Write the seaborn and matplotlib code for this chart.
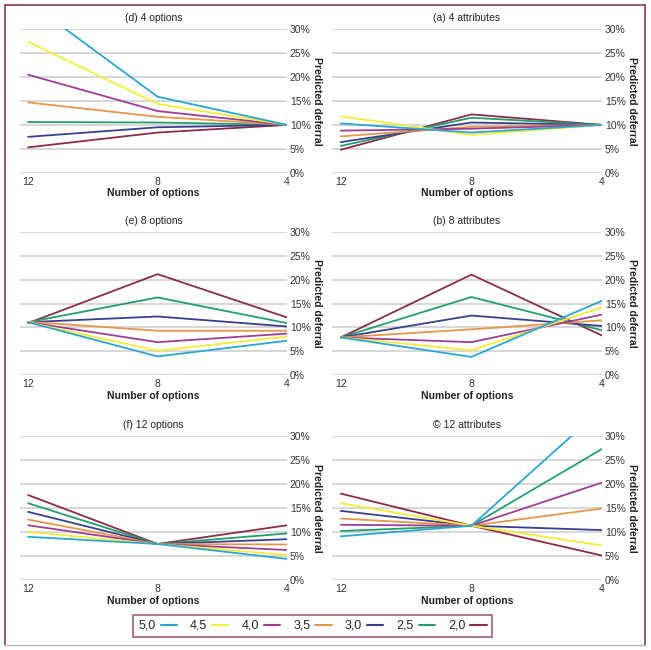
import numpy as np
import pandas as pd
import matplotlib
matplotlib.use("Agg")
import matplotlib.pyplot as plt
from matplotlib.lines import Line2D
import seaborn as sns

# ---------------- data ----------------
series = ["2,0", "2,5", "3,0", "3,5", "4,0", "4,5", "5,0"]
colors = ["#8B2D45", "#22A06B", "#3B3F8F", "#E8964A", "#9E3F96", "#F2EE3A", "#2BA6D4"]
x_options = [4, 8, 12]
y_ticks = [0, 5, 10, 15, 20, 25, 30]

titles = ["(a) 4 attributes", "(b) 8 attributes", "\u00a9 12 attributes",
          "(d) 4 options", "(e) 8 options", "(f) 12 options"]

# values in percent at 4, 8, 12 options, one row per series (2,0 ... 5,0)
panel_a = [[10, 12.2, 4.8], [10, 11.5, 5.6], [10, 10.5, 6.4], [10, 9.6, 7.6],
           [10, 9.2, 8.8], [10, 7.9, 11.8], [10, 8.4, 10.3]]
panel_b = [[8.3, 21.1, 7.9], [9.4, 16.4, 7.9], [10.3, 12.5, 7.9], [11.5, 9.6, 7.9],
           [12.7, 6.9, 7.9], [14.2, 5.2, 7.9], [15.6, 3.8, 7.9]]
panel_c = [[5.1, 11.3, 18.0], [27.3, 11.3, 10.2], [10.4, 11.3, 14.4], [14.9, 11.3, 12.8],
           [20.3, 11.3, 11.5], [7.2, 11.3, 16.0], [35.7, 11.3, 9.1]]
panel_d = [[10, 8.4, 5.3], [10, 10.5, 10.6], [10, 9.5, 7.5], [10, 11.7, 14.7],
           [10, 12.9, 20.5], [10, 14.4, 27.4], [10, 15.9, 35.8]]
panel_e = [[12.1, 21.2, 10.9], [10.9, 16.3, 11.1], [10.2, 12.3, 11.1], [9.3, 9.3, 11.2],
           [8.7, 6.9, 11.1], [8.1, 5.1, 11.1], [7.2, 3.9, 11.1]]
panel_f = [[11.4, 7.5, 17.7], [9.7, 7.5, 16.0], [8.5, 7.5, 14.2], [7.4, 7.5, 12.6],
           [6.25, 7.5, 11.4], [5.2, 7.5, 10.0], [4.4, 7.5, 9.0]]
panels = [panel_a, panel_b, panel_c, panel_d, panel_e, panel_f]

# ---------------- style ----------------
sns.set_theme(style="white")
plt.rcParams["font.family"] = ["Liberation Sans", "DejaVu Sans"]
plt.rcParams["font.size"] = 7.5

W, H = 651, 650
fig = plt.figure(figsize=(W / 100, H / 100), dpi=100)
fig.patch.set_facecolor("white")

palette = dict(zip(series, colors))

# pixel geometry (mirrored layout: attributes on the right column)
col_x = {"left": (20, 287, 12.25), "right": (332, 602, 12.27)}
row_y = [(29.3, 172.7), (232.3, 375.0), (436.0, 580.0)]

def make_df(vals):
    rows = []
    for s, v in zip(series, vals):
        for xo, yv in zip(x_options, v):
            rows.append({"cost": s, "options": xo, "deferral": yv})
    return pd.DataFrame(rows)

for i, (title, vals) in enumerate(zip(titles, panels)):
    col = "right" if i < 3 else "left"
    row = i % 3
    x0, x1, xmax = col_x[col]
    yt, yb = row_y[row]
    ax = fig.add_axes([x0 / W, 1 - yb / H, (x1 - x0) / W, (yb - yt) / H])
    df = make_df(vals)
    sns.lineplot(data=df, x="options", y="deferral", hue="cost", palette=palette,
                 hue_order=series, ax=ax, legend=False, linewidth=1.3)
    ax.set_xlim(xmax, 4)
    ax.set_ylim(0, 30)
    ax.set_xticks(x_options)
    ax.set_xticklabels([str(v) for v in x_options])
    ax.set_yticks(y_ticks)
    ax.set_yticklabels([f"{v}%" for v in y_ticks])
    ax.yaxis.tick_right()
    ax.yaxis.set_label_position("right")
    ax.tick_params(axis="both", length=0, labelsize=7.5, colors="#333333")
    ax.tick_params(axis="y", pad=2)
    ax.tick_params(axis="x", pad=3)
    ax.grid(axis="y", color="#d4d4d4", linewidth=1.3)
    ax.grid(axis="x", visible=False)
    ax.set_axisbelow(True)
    for sp in ax.spines.values():
        sp.set_visible(False)
    ax.set_ylabel("Predicted deferral", rotation=270, fontweight="bold",
                  fontsize=7.5, labelpad=8, color="#222222")
    ax.set_xlabel("Number of options", fontweight="bold", fontsize=7.5,
                  labelpad=1, color="#222222")
    ax.set_title(title, fontsize=7.5, pad=6, color="#222222")

# legend (mirrored order)
handles = [Line2D([0], [0], color=c, linewidth=1.5) for c in colors[::-1]]
leg = fig.legend(handles, series[::-1], ncol=7, loc="center",
                 bbox_to_anchor=(312.5 / W, 1 - 626 / H), markerfirst=False,
                 frameon=True, fancybox=False, fontsize=9, handlelength=1.3,
                 handletextpad=0.4, columnspacing=1.05, borderpad=0.4)
leg.get_frame().set_edgecolor("#8B3A4A")
leg.get_frame().set_linewidth(1.2)

# outer frame
frame_c = "#8B3A4A"
fig.add_artist(Line2D([5 / W, 5 / W], [1 - 5 / H, 1 - 645 / H], color=frame_c, linewidth=1.2))
fig.add_artist(Line2D([645 / W, 645 / W], [1 - 5 / H, 1 - 645 / H], color=frame_c, linewidth=1.2))
fig.add_artist(Line2D([5 / W, 645 / W], [1 - 5 / H, 1 - 5 / H], color=frame_c, linewidth=1.2))
fig.add_artist(Line2D([5 / W, 645 / W], [1 - 645 / H, 1 - 645 / H], color="#bbbbbb", linewidth=1.0))

fig.savefig("out.png", dpi=100, facecolor="white")
